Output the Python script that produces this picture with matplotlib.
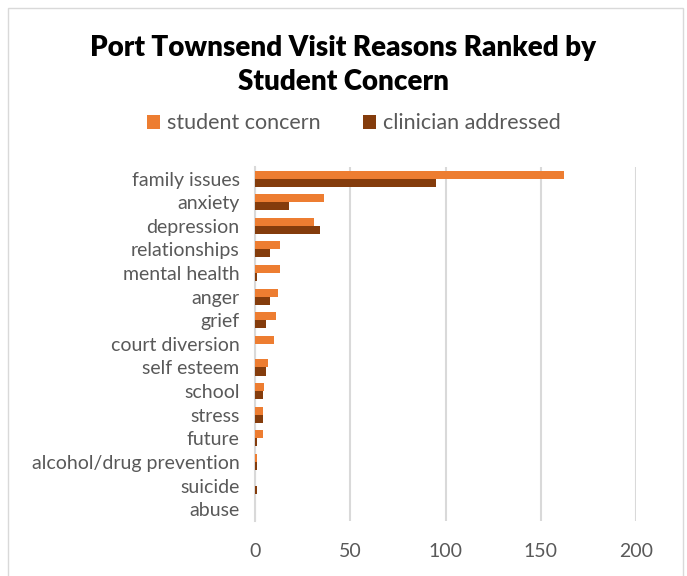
import numpy as np
import matplotlib.pyplot as plt
from matplotlib.patches import Rectangle

# Visit reasons, ranked by student concern (top to bottom)
reasons = ['family issues', 'anxiety', 'depression', 'relationships', 'mental health',
           'anger', 'grief', 'court diversion', 'self esteem', 'school', 'stress',
           'future', 'alcohol/drug prevention', 'suicide', 'abuse']
student_concern = [162, 36, 31, 13, 13, 12, 11, 10, 7, 5, 4, 4, 1, 0, 0]
clinician_addressed = [95, 18, 34, 8, 1, 8, 6, 0, 6, 4, 4, 1, 1, 1, 0]

plt.rcParams['font.family'] = ['Lato', 'DejaVu Sans']

fig = plt.figure(figsize=(6.87, 5.76), dpi=100)
ax = fig.add_axes([0.371, 0.0955, 0.555, 0.615])

y = np.arange(len(reasons))
h = 0.34
ax.barh(y - h / 2, student_concern, height=h, color='#ED7D31', label='student concern', zorder=3)
ax.barh(y + h / 2, clinician_addressed, height=h, color='#843C0C', label='clinician addressed', zorder=3)

ax.set_xlim(0, 200)
ax.set_ylim(len(reasons) - 0.5, -0.5)
ax.set_xticks([0, 50, 100, 150, 200])
ax.set_yticks(y)
ax.set_yticklabels(reasons)
ax.tick_params(axis='x', labelsize=14, colors='#595959', length=0, pad=16)
ax.tick_params(axis='y', labelsize=14, colors='#595959', length=0, pad=11)
ax.grid(axis='x', color='#d9d9d9', linewidth=1.5, zorder=0)
for s in ['top', 'right', 'bottom']:
    ax.spines[s].set_visible(False)
ax.spines['left'].set_color('#d9d9d9')
ax.spines['left'].set_linewidth(1.5)

fig.text(0.5, 0.916, 'Port Townsend Visit Reasons Ranked by', ha='center', va='center',
         fontsize=20, fontweight='heavy', color='black')
fig.text(0.5, 0.858, 'Student Concern', ha='center', va='center',
         fontsize=20, fontweight='heavy', color='black')

fig.legend(loc='center', bbox_to_anchor=(0.515, 0.786), ncol=2, frameon=False,
           fontsize=15.5, labelcolor='#595959', handlelength=0.6, handleheight=0.6,
           handletextpad=0.3, columnspacing=2.0)

fig.patches.append(Rectangle((8 / 687, -0.01), 675 / 687, 1 - 8 / 576 + 0.01,
                             transform=fig.transFigure, fill=False,
                             edgecolor='#d9d9d9', linewidth=1))

fig.savefig('out.png', dpi=100)
